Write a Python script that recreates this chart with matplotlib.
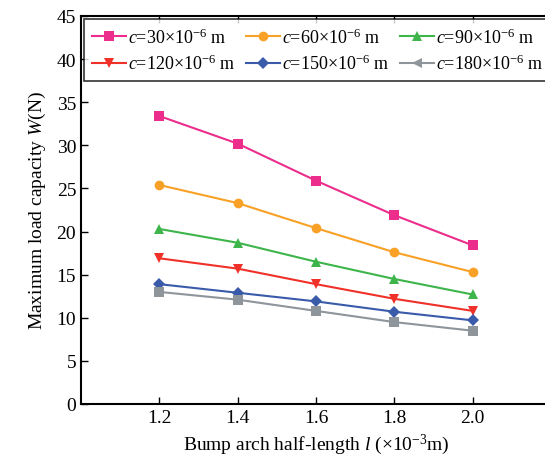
import matplotlib
matplotlib.use("Agg")
import matplotlib.pyplot as plt
from matplotlib.lines import Line2D

plt.rcParams['font.family'] = ['Liberation Serif', 'DejaVu Serif']
plt.rcParams['mathtext.fontset'] = 'custom'
plt.rcParams['mathtext.rm'] = 'Liberation Serif'
plt.rcParams['mathtext.it'] = 'Liberation Serif:italic'

x = [1.2, 1.4, 1.6, 1.8, 2.0]
w30 = [33.4, 30.2, 25.9, 21.9, 18.4]
w60 = [25.4, 23.3, 20.4, 17.6, 15.3]
w90 = [20.3, 18.7, 16.5, 14.5, 12.7]
w120 = [16.9, 15.7, 13.9, 12.2, 10.8]
w150 = [13.9, 12.9, 11.9, 10.7, 9.7]
w180 = [13.0, 12.1, 10.8, 9.5, 8.5]
labels = [r'$c$=30×10$^{-6}$ m', r'$c$=60×10$^{-6}$ m', r'$c$=90×10$^{-6}$ m',
          r'$c$=120×10$^{-6}$ m', r'$c$=150×10$^{-6}$ m', r'$c$=180×10$^{-6}$ m']
xticks = [1.2, 1.4, 1.6, 1.8, 2.0]
yticks = list(range(0, 50, 5))

series = [w30, w60, w90, w120, w150, w180]
colors = ['#EC2D8C', '#F8A126', '#3DB54A', '#F0312A', '#3A5AAA', '#8E959B']
markers = ['s', 'o', '^', 'v', 'D', 's']
leg_markers = ['s', 'o', '^', 'v', 'D', '<']

fig = plt.figure(figsize=(5.45, 4.6), dpi=100)
ax = fig.add_axes([81/545, 1-405/460, 470/545, 388/460])

for s, c, m in zip(series, colors, markers):
    ax.plot(x, s, color=c, marker=m, markersize=7 if m != 'D' else 6, lw=1.5,
            markeredgewidth=0)

ax.set_xlim(1.0, 2.2)
ax.set_ylim(0, 45)
ax.set_xticks(xticks)
ax.set_xticklabels([f'{v:.1f}' for v in xticks])
ax.set_yticks(yticks)
ax.tick_params(direction='in', top=True, right=False, labelsize=14, length=5, width=1)
for sp in ax.spines.values():
    sp.set_linewidth(1.5)

ax.set_xlabel(r'Bump arch half-length $l$ (×10$^{-3}$m)', fontsize=14, labelpad=4)
ax.set_ylabel(r'Maximum load capacity $W$(N)', fontsize=14, labelpad=6)

handles = [Line2D([0], [0], color=c, marker=m, markersize=7 if m != 'D' else 6,
                  lw=1.5, markeredgewidth=0)
           for c, m in zip(colors, leg_markers)]
order = [0, 3, 1, 4, 2, 5]
leg = ax.legend([handles[i] for i in order], [labels[i] for i in order],
                ncol=3, loc='upper left',
                bbox_to_anchor=(0.006, 0.85, 0.995, 0.142), mode='expand',
                fontsize=13, frameon=True, fancybox=False, edgecolor='black',
                handlelength=1.9, handletextpad=0.1, columnspacing=0.2,
                borderpad=0.45, labelspacing=0.4, borderaxespad=0)
leg.get_frame().set_linewidth(1.2)

fig.savefig('out.png', dpi=100)
